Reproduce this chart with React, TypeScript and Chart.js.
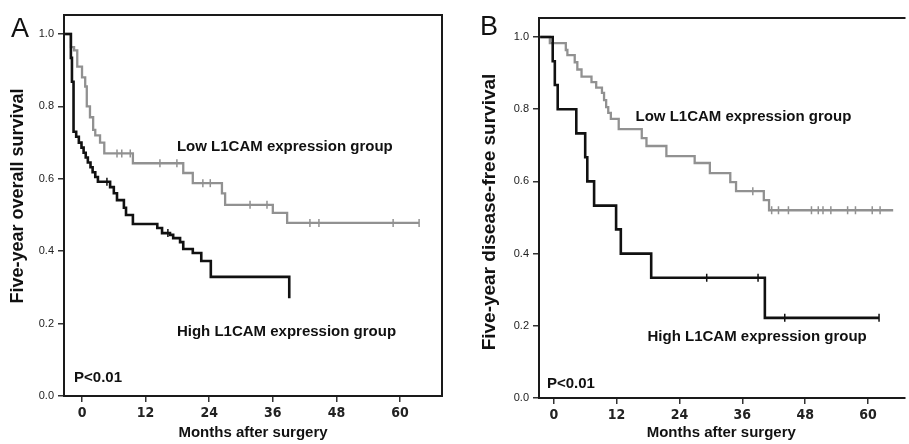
import React, { useEffect, useRef } from "react";
import { Chart, registerables } from "chart.js";

Chart.register(...registerables);

// ---------- data ----------
const xTickValues = [0, 12, 24, 36, 48, 60];
const yTickValues = [0, 0.2, 0.4, 0.6, 0.8, 1.0];

// Panel A – overall survival
const aHighMonths = [-3.2, -2.1, -1.9, -1.6, -1.1, -0.6, -0.1, 0.3, 0.7, 1.1, 1.6, 2.0, 2.5, 3.0, 5.3, 6.0, 6.6, 7.9, 8.3, 9.6, 14.2, 15.1, 16.6, 17.2, 18.5, 19.1, 20.9, 22.5, 24.3, 39.1];
const aHighSurv = [1.0, 0.934, 0.868, 0.73, 0.716, 0.7, 0.686, 0.672, 0.659, 0.645, 0.632, 0.618, 0.605, 0.592, 0.577, 0.56, 0.541, 0.52, 0.5, 0.475, 0.464, 0.45, 0.445, 0.436, 0.425, 0.406, 0.395, 0.373, 0.329, 0.27];
const aHighCensorMonths = [4.7, 16.2];
const aHighCensorSurv = [0.592, 0.45];

const aLowMonths = [-3.2, -2.1, -1.5, -0.9, 0.0, 0.6, 0.9, 1.5, 2.1, 2.5, 3.4, 4.2, 9.6, 19.1, 20.9, 26.4, 27.0, 36.0, 38.7, 63.6];
const aLowSurv = [1.0, 0.964, 0.955, 0.91, 0.88, 0.855, 0.8, 0.77, 0.735, 0.72, 0.7, 0.67, 0.643, 0.616, 0.588, 0.56, 0.528, 0.506, 0.478, 0.478];
const aLowCensorMonths = [6.6, 7.5, 9.1, 14.7, 17.9, 22.8, 24.2, 31.7, 34.9, 43.0, 44.7, 58.7, 63.6];
const aLowCensorSurv = [0.67, 0.67, 0.67, 0.643, 0.643, 0.588, 0.588, 0.528, 0.528, 0.478, 0.478, 0.478, 0.478];

// Panel B – disease-free survival
const bHighMonths = [-2.6, -0.2, 0.2, 0.75, 4.3, 6.0, 6.4, 7.7, 11.9, 12.8, 18.6, 40.3, 62.1];
const bHighSurv = [1.0, 0.933, 0.867, 0.8, 0.733, 0.667, 0.6, 0.533, 0.467, 0.4, 0.333, 0.222, 0.222];
const bHighCensorMonths = [29.2, 39.0, 44.1, 62.1];
const bHighCensorSurv = [0.333, 0.333, 0.222, 0.222];

const bLowMonths = [-2.6, -0.75, 2.3, 2.6, 4.0, 4.5, 5.3, 7.2, 8.1, 9.2, 9.6, 10.0, 10.4, 10.9, 12.4, 16.8, 17.7, 21.5, 26.9, 29.8, 33.7, 34.8, 40.1, 41.1, 64.8];
const bLowSurv = [1.0, 0.983, 0.964, 0.95, 0.93, 0.91, 0.89, 0.875, 0.86, 0.845, 0.825, 0.806, 0.79, 0.773, 0.745, 0.72, 0.698, 0.67, 0.651, 0.623, 0.598, 0.573, 0.548, 0.52, 0.52];
const bLowCensorMonths = [38.0, 41.6, 42.9, 44.8, 49.2, 50.5, 51.4, 52.9, 56.1, 57.6, 60.8, 62.3];
const bLowCensorSurv = [0.573, 0.52, 0.52, 0.52, 0.52, 0.52, 0.52, 0.52, 0.52, 0.52, 0.52, 0.52];

const lowLabel = "Low L1CAM expression group";
const highLabel = "High L1CAM expression group";
const pLabel = "P<0.01";
const xTitle = "Months after surgery";
const aYTitle = "Five-year overall survival";
const bYTitle = "Five-year disease-free survival";

// ---------- styles ----------
const SANS = '"Liberation Sans", Arial, Helvetica, sans-serif';
const NARROW = '"Liberation Sans Narrow", "Arial Narrow", "DejaVu Sans Condensed", "Liberation Sans", sans-serif';
const BLACK = "#111111";
const GRAY = "#919191";

const pts = (xs: number[], ys: number[]) => xs.map((x, i) => ({ x, y: ys[i] }));

type PanelCfg = {
  canvasLeft: number;
  canvasWidth: number;
  letter: string;
  letterX: number;
  letterY: number;
  yTitle: string;
  yTitleX: number;
  yTitleY: number;
  yTitleSize: number;
  yAxisWidth: number;
  xAxisHeight: number;
  padTop: number;
  padRight: number;
  xMin: number;
  xMax: number;
  yMax: number;
  rightBorder: boolean;
  high: [number[], number[]];
  highCensor: [number[], number[]];
  low: [number[], number[]];
  lowCensor: [number[], number[]];
  labels: { text: string; x: number; y: number }[];
};

const panelA: PanelCfg = {
  canvasLeft: 0,
  canvasWidth: 455,
  letter: "A",
  letterX: 11,
  letterY: 37,
  yTitle: aYTitle,
  yTitleX: 18,
  yTitleY: 196,
  yTitleSize: 18,
  yAxisWidth: 64,
  xAxisHeight: 48,
  padTop: 15,
  padRight: 13,
  xMin: -3.4,
  xMax: 67.92,
  yMax: 1.0525,
  rightBorder: true,
  high: [aHighMonths, aHighSurv],
  highCensor: [aHighCensorMonths, aHighCensorSurv],
  low: [aLowMonths, aLowSurv],
  lowCensor: [aLowCensorMonths, aLowCensorSurv],
  labels: [
    { text: lowLabel, x: 17.9, y: 0.688 },
    { text: highLabel, x: 17.9, y: 0.177 },
    { text: pLabel, x: -1.5, y: 0.05 },
  ],
};

const panelB: PanelCfg = {
  canvasLeft: 455,
  canvasWidth: 454,
  letter: "B",
  letterX: 25,
  letterY: 35,
  yTitle: bYTitle,
  yTitleX: 35,
  yTitleY: 212,
  yTitleSize: 19,
  yAxisWidth: 84,
  xAxisHeight: 46,
  padTop: 18,
  padRight: 0,
  xMin: -2.82,
  xMax: 66.77,
  yMax: 1.0526,
  rightBorder: false,
  high: [bHighMonths, bHighSurv],
  highCensor: [bHighCensorMonths, bHighCensorSurv],
  low: [bLowMonths, bLowSurv],
  lowCensor: [bLowCensorMonths, bLowCensorSurv],
  labels: [
    { text: lowLabel, x: 15.6, y: 0.778 },
    { text: highLabel, x: 17.9, y: 0.169 },
    { text: pLabel, x: -1.3, y: 0.039 },
  ],
};

function makeDecor(cfg: PanelCfg) {
  return {
    id: "decor" + cfg.letter,
    afterDatasetsDraw(chart: any) {
      const { ctx, chartArea: ca, scales } = chart;
      const xs = scales.x;
      const ys = scales.y;
      ctx.save();
      ctx.strokeStyle = "#1a1a1a";
      ctx.lineWidth = 2;
      ctx.beginPath();
      if (cfg.rightBorder) {
        ctx.rect(ca.left, ca.top, ca.right - ca.left, ca.bottom - ca.top);
      } else {
        ctx.moveTo(ca.right + 2, ca.top);
        ctx.lineTo(ca.left, ca.top);
        ctx.lineTo(ca.left, ca.bottom);
        ctx.lineTo(ca.right + 2, ca.bottom);
      }
      ctx.stroke();

      ctx.fillStyle = BLACK;
      ctx.font = "bold 15px " + SANS;
      ctx.textAlign = "left";
      ctx.textBaseline = "middle";
      for (const l of cfg.labels) {
        ctx.fillText(l.text, xs.getPixelForValue(l.x), ys.getPixelForValue(l.y));
      }

      // y-axis title (rotated)
      ctx.save();
      ctx.translate(cfg.yTitleX, cfg.yTitleY);
      ctx.rotate(-Math.PI / 2);
      ctx.textAlign = "center";
      ctx.textBaseline = "middle";
      ctx.font = "bold " + cfg.yTitleSize + "px " + SANS;
      ctx.fillText(cfg.yTitle, 0, 0);
      ctx.restore();

      ctx.font = "27px " + SANS;
      ctx.textAlign = "left";
      ctx.textBaseline = "alphabetic";
      ctx.fillText(cfg.letter, cfg.letterX, cfg.letterY);
      ctx.restore();
    },
  };
}

function Panel({ cfg }: { cfg: PanelCfg }) {
  const ref = useRef<HTMLCanvasElement | null>(null);

  useEffect(() => {
    if (!ref.current) return;
    const censorStyle = (color: string) => ({
      showLine: false,
      pointStyle: "line" as const,
      rotation: 90,
      pointRadius: 4,
      pointHoverRadius: 4,
      pointBorderWidth: 1.5,
      pointBorderColor: color,
      borderColor: color,
      backgroundColor: color,
    });
    const chart = new Chart(ref.current, {
      type: "line",
      data: {
        datasets: [
          {
            label: highLabel,
            data: pts(cfg.high[0], cfg.high[1]),
            borderColor: BLACK,
            borderWidth: 2.6,
            stepped: "before",
            pointRadius: 0,
            fill: false,
          },
          {
            label: highLabel + " (censored)",
            data: pts(cfg.highCensor[0], cfg.highCensor[1]),
            ...censorStyle(BLACK),
          },
          {
            label: lowLabel,
            data: pts(cfg.low[0], cfg.low[1]),
            borderColor: GRAY,
            borderWidth: 2.3,
            stepped: "before",
            pointRadius: 0,
            fill: false,
          },
          {
            label: lowLabel + " (censored)",
            data: pts(cfg.lowCensor[0], cfg.lowCensor[1]),
            ...censorStyle(GRAY),
          },
        ],
      },
      options: {
        animation: false,
        responsive: false,
        devicePixelRatio: 1,
        parsing: false as any,
        layout: { padding: { left: 0, right: cfg.padRight, top: cfg.padTop, bottom: 0 } },
        plugins: {
          legend: { display: false },
          tooltip: { enabled: false },
          title: { display: false },
        },
        scales: {
          x: {
            type: "linear",
            min: cfg.xMin,
            max: cfg.xMax,
            afterBuildTicks: (s: any) => {
              s.ticks = xTickValues.map((v) => ({ value: v }));
            },
            afterFit: (s: any) => {
              s.height = cfg.xAxisHeight;
            },
            border: { display: false },
            grid: {
              display: true,
              drawOnChartArea: false,
              drawTicks: true,
              tickLength: 6,
              tickColor: "#333",
              lineWidth: 1.5,
            },
            ticks: {
              autoSkip: false,
              maxRotation: 0,
              padding: 3,
              color: "#222",
              font: { family: NARROW, size: 14, weight: "bold" },
              callback: (v: any) => String(v),
            },
            title: {
              display: true,
              text: xTitle,
              color: BLACK,
              font: { family: SANS, size: 15, weight: "bold" },
              padding: { top: 0, bottom: 2 },
            },
          },
          y: {
            type: "linear",
            min: 0,
            max: cfg.yMax,
            afterBuildTicks: (s: any) => {
              s.ticks = yTickValues.map((v) => ({ value: v }));
            },
            afterFit: (s: any) => {
              s.width = cfg.yAxisWidth;
            },
            border: { display: false },
            grid: {
              display: true,
              drawOnChartArea: false,
              drawTicks: true,
              tickLength: 6,
              tickColor: "#333",
              lineWidth: 1.5,
            },
            ticks: {
              autoSkip: false,
              padding: 4,
              color: "#222",
              font: { family: SANS, size: 11 },
              callback: (v: any) => Number(v).toFixed(1),
            },
            title: { display: false },
          },
        },
      },
      plugins: [makeDecor(cfg)],
    });
    return () => chart.destroy();
  }, [cfg]);

  return (
    <canvas
      ref={ref}
      width={cfg.canvasWidth}
      height={444}
      style={{
        position: "absolute",
        left: cfg.canvasLeft,
        top: 0,
        width: cfg.canvasWidth,
        height: 444,
        display: "block",
      }}
    />
  );
}

export default function App() {
  return (
    <div
      style={{
        position: "fixed",
        left: 0,
        top: 0,
        width: 909,
        height: 444,
        background: "#ffffff",
        overflow: "hidden",
      }}
    >
      <Panel cfg={panelA} />
      <Panel cfg={panelB} />
    </div>
  );
}
